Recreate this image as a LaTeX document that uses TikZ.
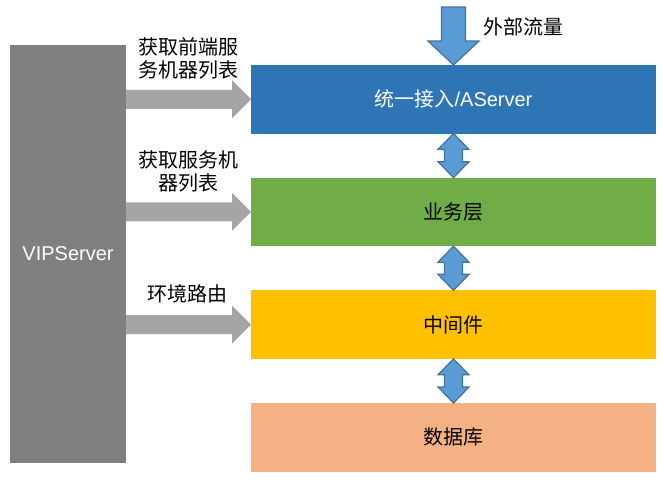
\documentclass[tikz,border=0pt]{standalone}
\usepackage{fontspec}
\setmainfont{Liberation Sans}
\newfontfamily\cjk{Noto Sans CJK SC}
\usetikzlibrary{positioning,calc}

\definecolor{vipgray}{HTML}{7F7F7F}
\definecolor{feedgray}{HTML}{A5A5A5}
\definecolor{uiblue}{HTML}{2E75B6}
\definecolor{bizgreen}{HTML}{70AD47}
\definecolor{midyellow}{HTML}{FFC000}
\definecolor{dborange}{HTML}{F4B183}
\definecolor{flowblue}{HTML}{5B9BD5}
\definecolor{flowedge}{HTML}{41719C}

\tikzset{
  layer/.style={minimum width=303.75pt, minimum height=51.375pt, inner sep=0pt, outer sep=0pt,
    font=\fontsize{15}{18}\selectfont},
  lbl/.style={align=center, inner sep=0pt, font=\fontsize{15}{17.25}\selectfont\cjk},
  flow/.style={fill=flowblue, draw=flowedge, line width=0.9pt, line join=miter},
  feed/.style={fill=feedgray},
}

\begin{document}
\begin{tikzpicture}[x=0.75pt, y=-0.75pt, node distance=33.125pt]
  \useasboundingbox (0,0) rectangle (663,482);
  % VIPServer column on the left
  \node[fill=vipgray, minimum width=87pt, minimum height=313.5pt, inner sep=0pt, outer sep=0pt,
    text=white, font=\fontsize{15}{18}\selectfont] (vip) at (68,254) {VIPServer};
  % the four layers
  \node[layer, fill=uiblue, text=white] (ui) at (453.5,99.25) {{\cjk 统一接入}/AServer\hspace{16pt}};
  \node[layer, fill=bizgreen, below=of ui] (biz) {\cjk 业务层};
  \node[layer, fill=midyellow, below=of biz] (mid) {\cjk 中间件};
  \node[layer, fill=dborange, below=of mid] (db) {\cjk 数据库};
  % incoming traffic
  \draw[flow] (ui.north) -- ++(25.5,-24) -- ++(-13.5,0) -- ++(0,-34) -- ++(-24,0)
    -- ++(0,34) -- ++(-13.5,0) -- cycle;
  \node[lbl] (traffic) at (523,27) {外部流量};
  % arrows between layers
  \foreach \a/\b in {ui/biz, biz/mid, mid/db}
    \draw[flow] (\a.south) -- ++(15.5,16) -- ++(-6.5,0) -- ($(\b.north)+(9,-16)$) -- ++(6.5,0)
      -- (\b.north) -- ++(-15.5,-16) -- ++(6.5,0) -- ($(\a.south)+(-9,16)$) -- ++(-6.5,0) -- cycle;
  % arrows from VIPServer
  \foreach \b in {ui, biz, mid}
    \fill[feed] (\b.west) -- ++(-19,-19) -- ++(0,9.5) -- ($(vip.east |- \b.west)+(0,-9.5)$)
      -- ++(0,19) -- ($(\b.west)+(-19,9.5)$) -- ++(0,9.5) -- cycle;
  \node[lbl] (fetch1) at (188,58.5) {获取前端服\\务机器列表};
  \node[lbl] (fetch2) at (188,171.5) {获取服务机\\器列表};
  \node[lbl] (route) at (187,294) {环境路由};
\end{tikzpicture}
\end{document}
